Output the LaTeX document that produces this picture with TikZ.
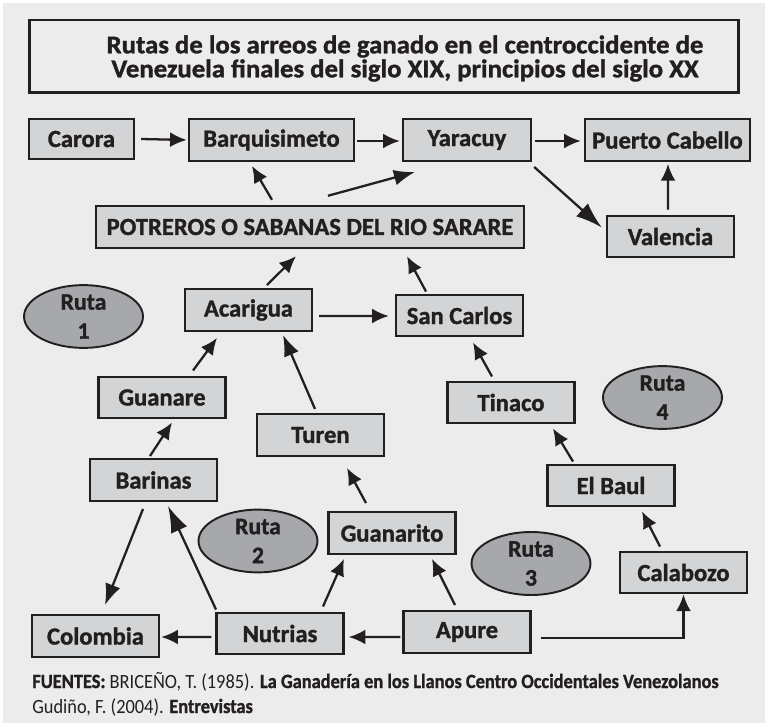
\documentclass[tikz,border=0pt]{standalone}
\usepackage{fontspec}
\setmainfont{Carlito}[BoldFeatures={FakeBold=1.3}]
\usetikzlibrary{shapes.geometric,arrows.meta,calc}
\definecolor{bg}{HTML}{ECECEC}
\definecolor{boxfill}{HTML}{D3D4D6}
\definecolor{rutafill}{HTML}{A7A8AB}
\definecolor{ink}{HTML}{231F20}

\begin{document}
\begin{tikzpicture}[x=0.02cm,y=-0.02cm,
	place/.style={draw=ink,line width=1.4pt,fill=boxfill,minimum width=2.54cm,minimum height=0.83cm,inner sep=0pt,text=ink,font=\fontsize{14}{16}\selectfont\bfseries},
	ruta/.style={ellipse,draw=ink,line width=1.1pt,fill=rutafill,minimum width=2.38cm,minimum height=1.22cm,inner sep=0pt,align=center,text=ink,font=\fontsize{13.5}{16.5}\selectfont\bfseries},
	route/.style={draw=ink,line width=1.3pt,-{Latex[length=9.5pt,width=8.5pt]}},
	longroute/.style={draw=ink,line width=1.3pt,-{Latex[length=12pt,width=9pt]}},
	bigroute/.style={draw=ink,line width=1.3pt,-{Latex[length=15pt,width=10pt]}}]

	%background
	\fill[white] (0,0) rectangle (765,723);
	\fill[bg] (3,3) rectangle (765,723);

	%title
	\node[draw=ink,line width=1.7pt,minimum width=14.2cm,minimum height=1.46cm,inner sep=0pt] (titlebox) at (384,56.5) {};
	\node[align=center,text=ink,xscale=1.05,font=\fontsize{14.5}{12.5}\selectfont\bfseries] (titletext) at (405,58.5)
		{Rutas de los arreos de ganado en el centroccidente de\\ Venezuela finales del siglo XIX, principios del siglo XX};

	%top row
	\node[place,minimum width=2.1cm,minimum height=0.8cm] (carora) at (81.5,139) {Carora};
	\node[place,minimum width=3.3cm] (barqui) at (271.5,140) {Barquisimeto};
	\node[place,minimum width=2.56cm] (yaracuy) at (467,140) {Yaracuy};
	\node[place,minimum width=3.3cm] (puerto) at (667.5,140) {Puerto Cabello};
	\node[place,minimum width=8.56cm,minimum height=0.84cm] (potreros) at (310,227) {POTREROS O SABANAS DEL RIO SARARE};
	\node[place] (valencia) at (670.5,236.5) {Valencia};

	%middle
	\node[place] (acarigua) at (248.5,310) {Acarigua};
	\node[place] (sancarlos) at (459.5,315.5) {San Carlos};
	\node[place] (guanare) at (162,397.5) {Guanare};
	\node[place] (turen) at (320.5,435) {Turen};
	\node[place] (tinaco) at (511,402.5) {Tinaco};
	\node[place] (barinas) at (153.5,480) {Barinas};
	\node[place] (elbaul) at (611,485.5) {El Baul};
	\node[place] (guanarito) at (392,533) {Guanarito};
	\node[place] (calabozo) at (683.5,572.5) {Calabozo};

	%bottom row
	\node[place] (colombia) at (95.5,636) {Colombia};
	\node[place] (nutrias) at (280,633.5) {Nutrias};
	\node[place] (apure) at (467,632) {Apure};

	%routes
	\node[ruta] (ruta1) at (83.5,316.5) {Ruta\\1};
	\node[ruta] (ruta2) at (258,541) {Ruta\\2};
	\node[ruta] (ruta3) at (531,563.5) {Ruta\\3};
	\node[ruta] (ruta4) at (662.5,397.5) {Ruta\\4};

	%arrows top
	\draw[route] ($(carora.east)+(6,0)$) -- ($(barqui.west)+(-1,0)$);
	\draw[route] ($(barqui.east)+(2,1)$) -- ($(yaracuy.west)+(-2,1)$);
	\draw[route] ($(yaracuy.east)+(3,1)$) -- ($(puerto.west)+(-3,1)$);
	\draw[route] ($(potreros.north)+(-38,-5)$) -- ($(barqui.south)+(-19.5,4)$);
	\draw[longroute] ($(potreros.north)+(18,-9)$) -- ($(yaracuy.south)+(-52,10)$);
	\draw[bigroute] ($(yaracuy.south east)+(2,5)$) -- ($(valencia.north west)+(-4,13)$);
	\draw[route] ($(valencia.north)+(-2.5,-5)$) -- ($(puerto.south)+(0.5,2)$);

	%arrows middle
	\draw[route] ($(acarigua.north)+(18.5,-3)$) -- ($(potreros.south)+(-14,7)$);
	\draw[route] ($(acarigua.east)+(6,6)$) -- ($(sancarlos.west)+(-6,0.5)$);
	\draw[route] ($(sancarlos.north)+(-33.5,-2)$) -- ($(potreros.south)+(97,7)$);
	\draw[route] ($(guanare.north)+(31,-5)$) -- ($(acarigua.south)+(-31.5,6)$);
	\draw[longroute] ($(turen.north)+(-5.5,-4)$) -- ($(acarigua.south)+(34.5,3)$);
	\draw[route] ($(barinas.north)+(-3.5,-2)$) -- ($(guanare.south)+(10,3)$);
	\draw[route] ($(tinaco.north)+(-19,-4)$) -- ($(sancarlos.south)+(13.5,5)$);
	\draw[route] ($(elbaul.north)+(-38,-2)$) -- ($(tinaco.south)+(42,4)$);
	\draw[route] ($(calabozo.north)+(-23.5,-4)$) -- ($(elbaul.south)+(31,4)$);
	\draw[route] ($(guanarito.north)+(-26,-8)$) -- ($(turen.south)+(26.5,11)$);

	%arrows bottom
	\draw[route] ($(apure.north)+(-12,-5)$) -- ($(guanarito.south)+(40,4)$);
	\draw[route] ($(nutrias.north)+(43,-5)$) -- ($(guanarito.south)+(-48,4)$);
	\draw[bigroute] ($(nutrias.north)+(-64,-2)$) -- ($(barinas.south)+(14.5,4)$);
	\draw[longroute] ($(barinas.south)+(-10.5,7)$) -- ($(colombia.north)+(9.5,-9)$);
	\draw[route] ($(nutrias.west)+(-4,3.5)$) -- ($(colombia.east)+(1,1)$);
	\draw[route] ($(apure.west)+(-2,5)$) -- ($(nutrias.east)+(4,3.5)$);
	\draw[route] ($(apure.east)+(9,6)$) -| (calabozo.south);

	%sources
	\node[anchor=base west,inner sep=0pt,text=ink,xscale=0.91,font=\fontsize{11.5}{13}\selectfont] (fuente1) at (32,688)
		{\textbf{FUENTES:} BRICEÑO, T. (1985). \textbf{La Ganadería en los Llanos Centro Occidentales Venezolanos}};
	\node[anchor=base west,inner sep=0pt,text=ink,xscale=0.91,font=\fontsize{11.5}{13}\selectfont] (fuente2) at (32,713)
		{Gudiño, F. (2004). \textbf{Entrevistas}};
\end{tikzpicture}
\end{document}
